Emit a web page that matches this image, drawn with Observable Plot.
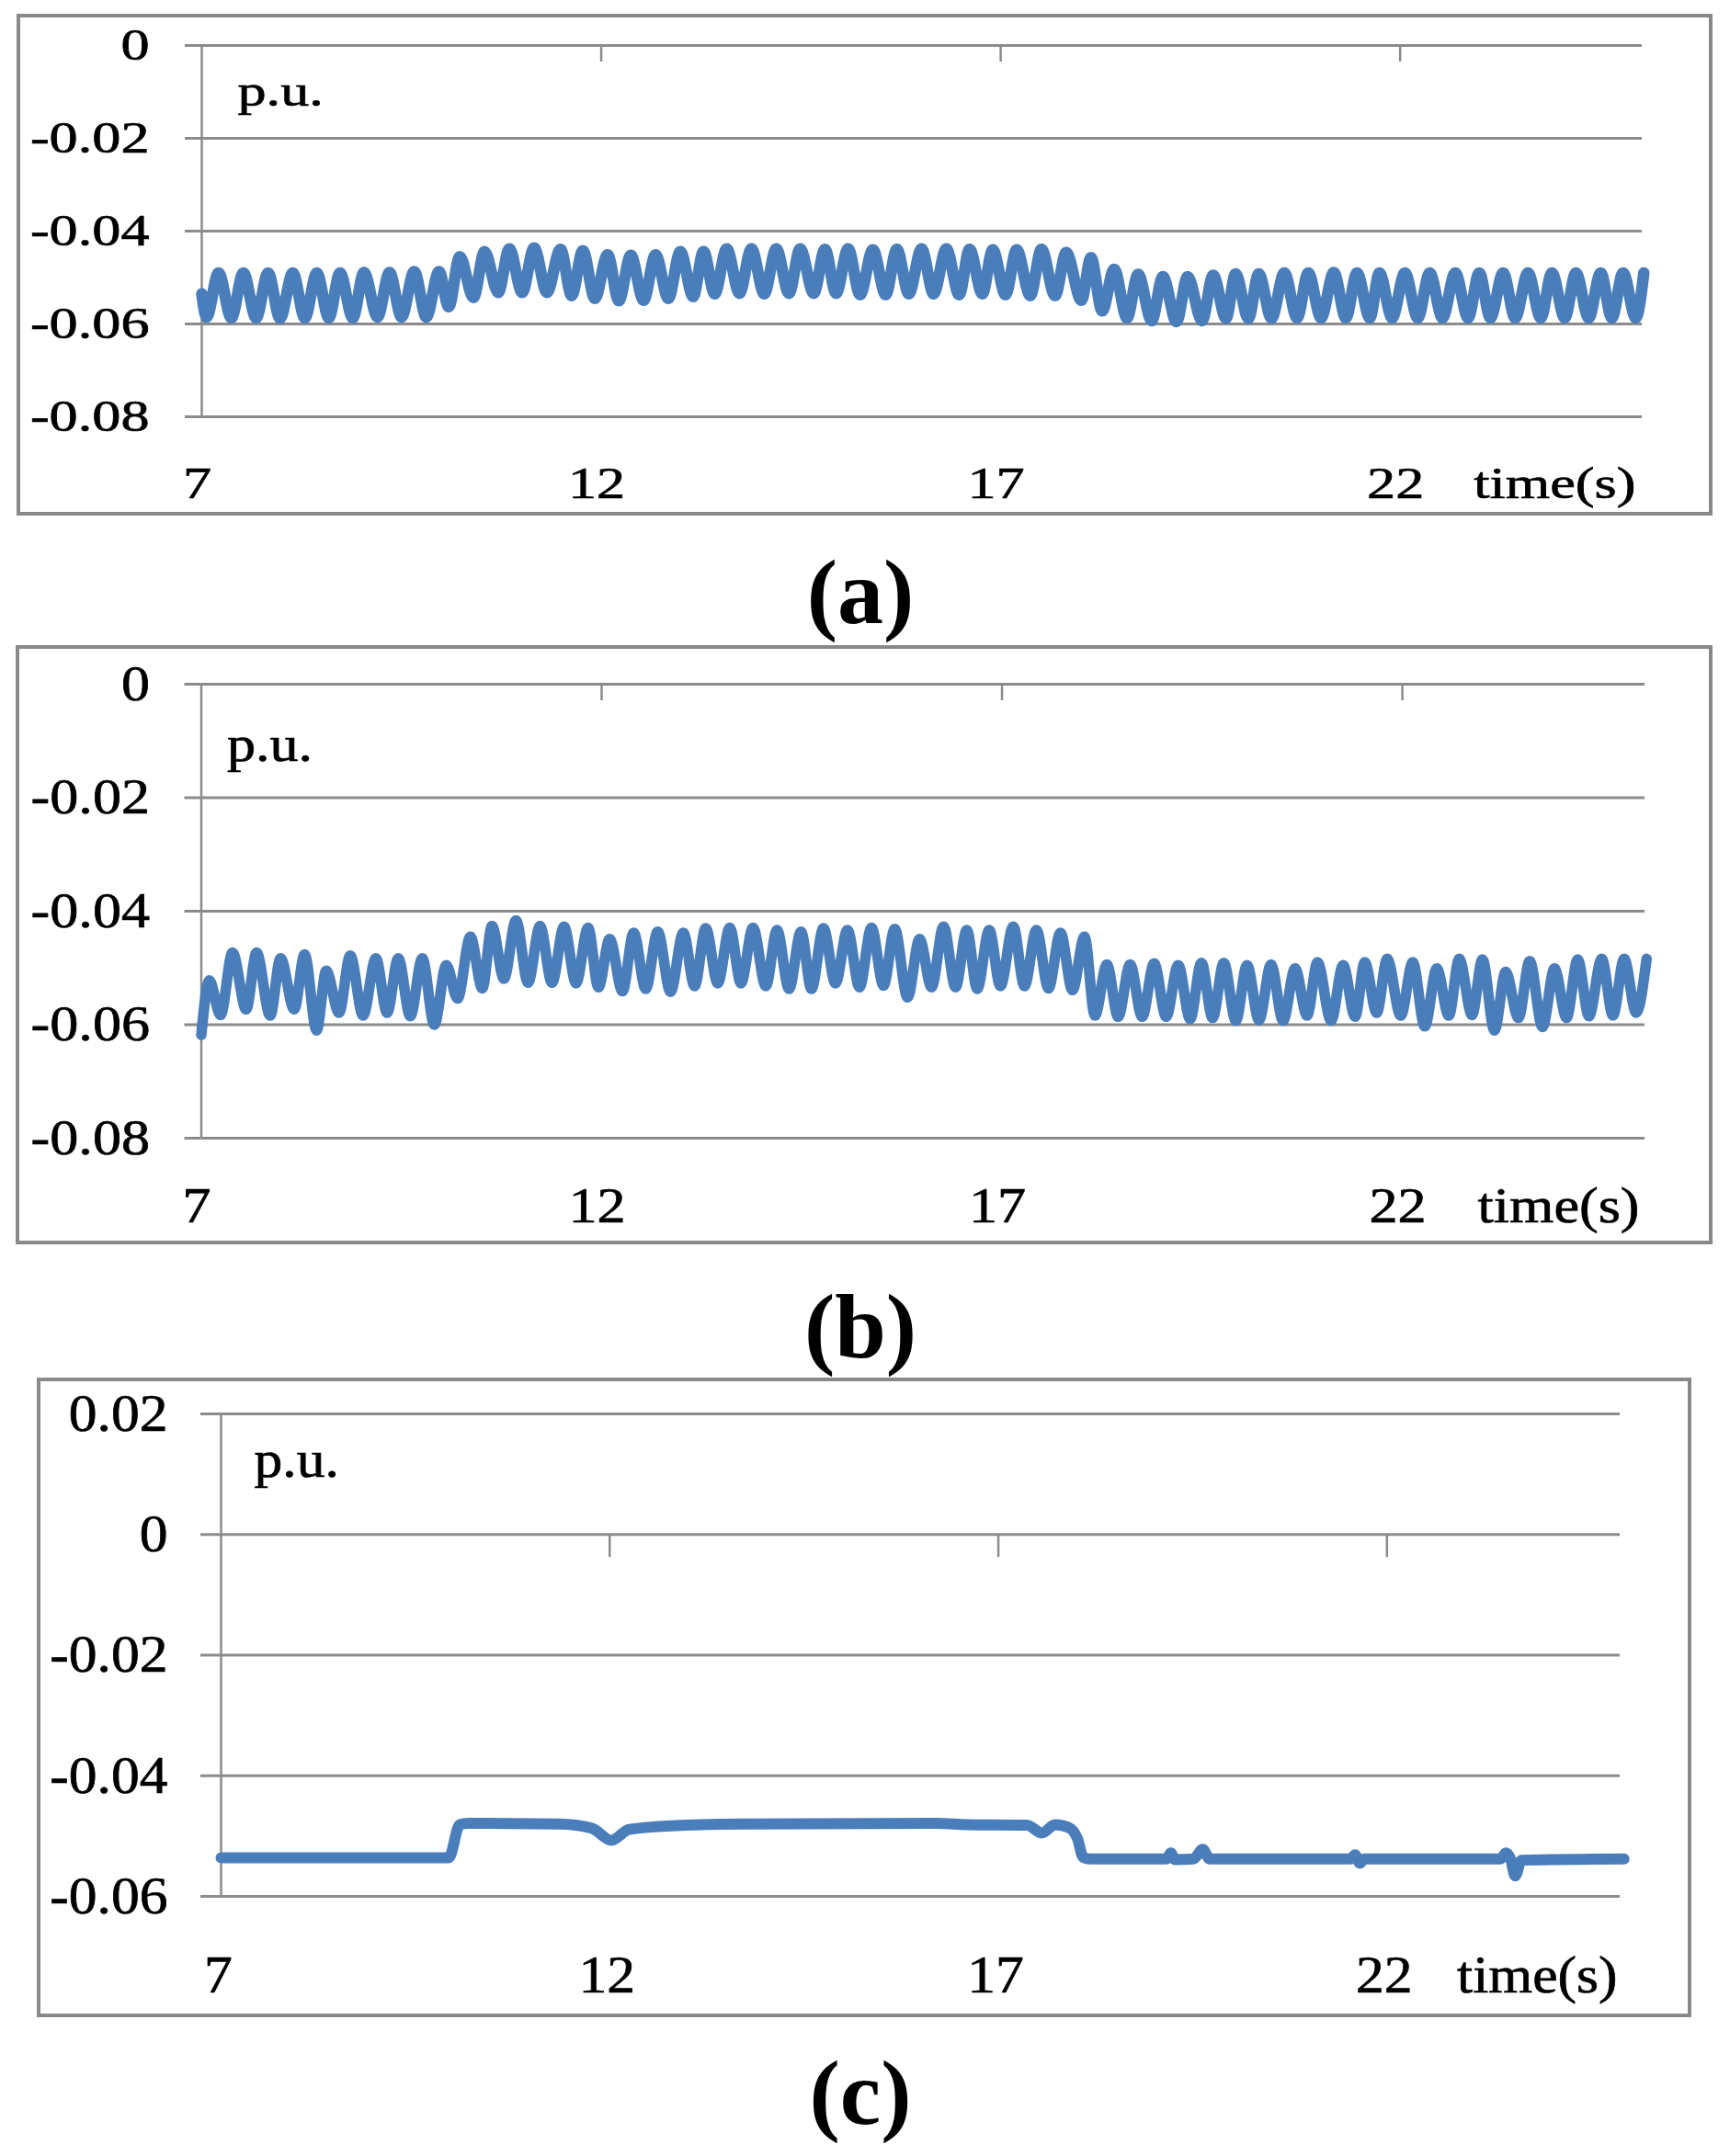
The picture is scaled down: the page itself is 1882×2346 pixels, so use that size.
<!DOCTYPE html>
<html><head><meta charset="utf-8">
<script src="https://cdn.jsdelivr.net/npm/d3@7"></script>
<script src="https://cdn.jsdelivr.net/npm/@observablehq/plot@0.6"></script>
<style>
html,body{margin:0;padding:0;background:#fff}
#page{position:relative;width:1882px;height:2346px;background:#fff;overflow:hidden}
.chart{position:absolute;left:0}
.chart svg text{stroke:#000;stroke-width:0.7px}
.frame{position:absolute;box-sizing:border-box;border:4px solid #898989;pointer-events:none}
.cap{position:absolute;left:0;width:1872px;text-align:center;font-family:"Liberation Serif","Times New Roman",serif;font-weight:bold;font-size:100px;line-height:100px;color:#000}
</style></head><body>
<div id="page">
  <div class="chart" id="ca" style="top:0px"></div>
  <div class="frame" style="left:18px;top:15px;width:1845px;height:546px"></div>
  <div class="cap" style="top:595px">(a)</div>
  <div class="chart" id="cb" style="top:700px"></div>
  <div class="frame" style="left:17px;top:702px;width:1846px;height:652px"></div>
  <div class="cap" style="top:1394px">(b)</div>
  <div class="chart" id="cc" style="top:1500px"></div>
  <div class="frame" style="left:40px;top:1499px;width:1800px;height:696px"></div>
  <div class="cap" style="top:2228px">(c)</div>
</div>
<script>
// ---- tick values and labels ----
const xTicks = [7, 12, 17, 22];
const xTickLabels = ["7", "12", "17", "22"];
const yTicksAB = [0, -0.02, -0.04, -0.06, -0.08];
const yTickLabelsAB = ["0", "-0.02", "-0.04", "-0.06", "-0.08"];
const yTicksC = [0.02, 0, -0.02, -0.04, -0.06];
const yTickLabelsC = ["0.02", "0", "-0.02", "-0.04", "-0.06"];
const unitLabel = "p.u.";
const timeLabel = "time(s)";

// ---- series (a): extrema ----
const tA = [7.00,7.06,7.21,7.37,7.52,7.68,7.83,7.98,8.14,8.29,8.44,8.59,8.73,8.89,9.03,9.20,9.35,9.50,9.66,9.81,9.97,
10.09,10.23,10.40,10.54,10.71,10.85,11.01,11.16,11.32,11.49,11.63,11.77,11.92,12.08,12.22,12.37,12.53,12.68,12.84,12.99,
13.15,13.28,13.42,13.57,13.73,13.88,14.04,14.19,14.35,14.49,14.66,14.80,14.94,15.09,15.24,15.40,15.56,15.70,15.85,16.01,
16.16,16.32,16.48,16.61,16.77,16.90,17.06,17.20,17.37,17.51,17.68,17.82,18.01,18.13,18.27,18.42,18.58,18.72,18.89,19.03,
19.20,19.34,19.52,19.66,19.82,19.94,20.10,20.23,20.39,20.55,20.71,20.85,21.01,21.17,21.32,21.46,21.62,21.74,21.90,22.06,
22.22,22.37,22.53,22.69,22.85,22.99,23.13,23.29,23.44,23.60,23.76,23.90,24.06,24.20,24.36,24.51,24.65,24.79,24.95,25.05];
const vA = [-0.0535,-0.0585,-0.0490,-0.0587,-0.0490,-0.0587,-0.0490,-0.0588,-0.0490,-0.0587,-0.0490,-0.0587,-0.0490,-0.0587,-0.0489,-0.0585,-0.0489,-0.0585,-0.0487,-0.0585,-0.0487,
-0.0563,-0.0455,-0.0543,-0.0444,-0.0532,-0.0438,-0.0532,-0.0436,-0.0532,-0.0439,-0.0539,-0.0442,-0.0545,-0.0451,-0.0550,-0.0452,-0.0549,-0.0451,-0.0545,-0.0444,
-0.0541,-0.0444,-0.0535,-0.0438,-0.0534,-0.0438,-0.0535,-0.0438,-0.0534,-0.0438,-0.0534,-0.0439,-0.0534,-0.0438,-0.0537,-0.0440,-0.0537,-0.0439,-0.0535,-0.0438,
-0.0535,-0.0438,-0.0537,-0.0439,-0.0535,-0.0440,-0.0537,-0.0440,-0.0539,-0.0439,-0.0539,-0.0446,-0.0549,-0.0457,-0.0572,-0.0482,-0.0587,-0.0493,-0.0593,-0.0498,
-0.0595,-0.0498,-0.0593,-0.0495,-0.0588,-0.0492,-0.0588,-0.0492,-0.0588,-0.0490,-0.0587,-0.0490,-0.0587,-0.0489,-0.0587,-0.0490,-0.0587,-0.0490,-0.0587,-0.0490,
-0.0587,-0.0490,-0.0587,-0.0490,-0.0587,-0.0490,-0.0587,-0.0490,-0.0587,-0.0490,-0.0587,-0.0490,-0.0587,-0.0490,-0.0587,-0.0490,-0.0587,-0.0490,-0.0587,-0.0490];

// ---- series (b) ----
const tB = [7.00,7.10,7.24,7.39,7.56,7.69,7.86,7.99,8.16,8.29,8.44,8.56,8.72,8.86,9.02,9.18,9.32,9.46,9.61,9.76,9.91,
10.06,10.20,10.36,10.51,10.63,10.78,10.93,11.08,11.23,11.38,11.53,11.68,11.83,11.96,12.10,12.26,12.40,12.55,12.70,12.86,
13.02,13.16,13.30,13.45,13.60,13.74,13.89,14.05,14.19,14.34,14.49,14.62,14.77,14.92,15.07,15.22,15.37,15.52,15.66,15.82,
15.97,16.12,16.27,16.42,16.56,16.69,16.84,16.98,17.14,17.28,17.43,17.58,17.73,17.88,18.03,18.16,18.31,18.45,18.60,18.75,
18.90,19.05,19.20,19.35,19.49,19.63,19.77,19.92,20.06,20.21,20.36,20.51,20.66,20.81,20.94,21.11,21.26,21.41,21.53,21.68,
21.81,21.98,22.13,22.28,22.43,22.58,22.71,22.87,23.00,23.15,23.29,23.45,23.59,23.75,23.90,24.05,24.19,24.33,24.49,24.63,
24.77,24.92,25.05];
const vB = [-0.0618,-0.0522,-0.0583,-0.0473,-0.0573,-0.0473,-0.0584,-0.0483,-0.0573,-0.0476,-0.0610,-0.0505,-0.0579,-0.0478,-0.0584,-0.0483,-0.0579,-0.0483,-0.0585,-0.0483,-0.0600,
-0.0495,-0.0554,-0.0445,-0.0536,-0.0426,-0.0519,-0.0416,-0.0526,-0.0426,-0.0526,-0.0427,-0.0527,-0.0429,-0.0534,-0.0449,-0.0541,-0.0438,-0.0537,-0.0436,-0.0542,
-0.0438,-0.0532,-0.0430,-0.0527,-0.0429,-0.0527,-0.0429,-0.0532,-0.0433,-0.0537,-0.0436,-0.0537,-0.0430,-0.0527,-0.0433,-0.0534,-0.0429,-0.0531,-0.0431,-0.0552,
-0.0449,-0.0534,-0.0427,-0.0534,-0.0433,-0.0537,-0.0433,-0.0532,-0.0427,-0.0532,-0.0433,-0.0536,-0.0438,-0.0539,-0.0445,-0.0584,-0.0494,-0.0586,-0.0494,-0.0586,
-0.0492,-0.0586,-0.0495,-0.0590,-0.0491,-0.0588,-0.0491,-0.0593,-0.0495,-0.0592,-0.0494,-0.0593,-0.0501,-0.0584,-0.0490,-0.0593,-0.0495,-0.0586,-0.0490,-0.0579,
-0.0484,-0.0584,-0.0490,-0.0603,-0.0501,-0.0584,-0.0484,-0.0583,-0.0485,-0.0610,-0.0507,-0.0588,-0.0488,-0.0604,-0.0501,-0.0588,-0.0485,-0.0585,-0.0484,-0.0584,
-0.0484,-0.0579,-0.0484];

// ---- series (c) ----
const tC = [7.00,9.93,10.07,10.17,11.35,11.77,12.02,12.25,12.79,13.70,16.22,16.59,17.37,17.56,17.73,17.91,18.02,18.09,18.18,
19.16,19.22,19.27,19.51,19.63,19.72,21.53,21.59,21.65,21.71,23.46,23.53,23.59,23.65,23.73,25.05];
const vC = [-0.0536,-0.0536,-0.0481,-0.0479,-0.0480,-0.0487,-0.0507,-0.0489,-0.0483,-0.0480,-0.0479,-0.0481,-0.0482,-0.0495,-0.0481,-0.0486,-0.0505,-0.0535,-0.0538,
-0.0538,-0.0528,-0.0539,-0.0538,-0.0522,-0.0538,-0.0538,-0.0531,-0.0545,-0.0538,-0.0538,-0.0528,-0.0538,-0.0566,-0.0540,-0.0538];

const GRID = "#8b8b8b";
const LINE = "#4a7ebb";

function makeChart(c) {
  const data = c.t.map((t, i) => ({t, v: c.v[i]}));
  const fmtY = d => c.yLabels[c.yTicks.indexOf(d)];
  const fmtX = d => xTickLabels[xTicks.indexOf(d)];
  return Plot.plot({
    width: 1882,
    height: c.height,
    marginTop: c.mt, marginBottom: c.mb, marginLeft: c.ml, marginRight: c.mr,
    x: {domain: c.xDomain},
    y: {domain: c.yDomain},
    style: {fontFamily: '"Liberation Serif", "Times New Roman", serif', fontSize: c.font + "px", background: "transparent", color: "#000", overflow: "visible"},
    marks: [
      Plot.ruleY(c.yTicks, {stroke: GRID, strokeWidth: 3}),
      Plot.ruleX([7], {stroke: GRID, strokeWidth: 2.5}),
      Plot.ruleX(xTicks.slice(1), {x: d => d, y1: () => 0, y2: () => 0, insetBottom: -c.tickLen, stroke: GRID, strokeWidth: 2.5}),
      Plot.axisY({ticks: c.yTicks, tickSize: c.yTickLen, tickPadding: c.yPad, tickFormat: fmtY, label: null, stroke: GRID, strokeWidth: 3, fontSize: c.font}),
      Plot.axisX({anchor: "bottom", ticks: xTicks, tickSize: 0, tickPadding: c.xPad, tickFormat: fmtX, label: null, dx: c.xdx, fontSize: c.font}),
      Plot.text([timeLabel], {frameAnchor: "bottom-right", textAnchor: "end", lineAnchor: "top", dy: c.xPad, dx: c.tdx, fontSize: c.font}),
      Plot.text([unitLabel], {frameAnchor: "top-left", textAnchor: "start", lineAnchor: "top", dx: c.pdx, dy: c.pdy, fontSize: c.font}),
      Plot.line(data, {x: "t", y: "v", stroke: LINE, strokeWidth: c.sw, curve: "monotone-x"})
    ]
  });
}

function stretch(svg, r) {
  svg.querySelectorAll("text").forEach(t => {
    const w = t.getComputedTextLength();
    if (w > 0) {
      t.setAttribute("textLength", (w * r).toFixed(1));
      t.setAttribute("lengthAdjust", "spacingAndGlyphs");
    }
  });
}

const configs = [
  {id: "ca", t: tA, v: vA, height: 560, mt: 49, mb: 107, ml: 219, mr: 96, xDomain: [7, 25.03], yDomain: [-0.08, 0],
   yTicks: yTicksAB, yLabels: yTickLabelsAB, font: 49, ratio: 1.27, xPad: 54, xdx: -5, tdx: -7, pdx: 39, pdy: 31,
   yTickLen: 18, yPad: 39, tickLen: 18, sw: 12.5},
  {id: "cb", t: tB, v: vB, height: 656, mt: 44, mb: 118, ml: 218.5, mr: 93, xDomain: [7, 25.03], yDomain: [-0.08, 0],
   yTicks: yTicksAB, yLabels: yTickLabelsAB, font: 54, ratio: 1.15, xPad: 53, xdx: -5, tdx: -6, pdx: 28, pdy: 45,
   yTickLen: 18, yPad: 38, tickLen: 18, sw: 11.5},
  {id: "cc", t: tC, v: vC, height: 700, mt: 38, mb: 137, ml: 240, mr: 120, xDomain: [7, 25], yDomain: [-0.06, 0.02],
   yTicks: yTicksC, yLabels: yTickLabelsC, font: 57, ratio: 1.08, xPad: 64, xdx: -3, tdx: -3, pdx: 36, pdy: 28,
   yTickLen: 22, yPad: 36, tickLen: 25, sw: 12}
];

for (const c of configs) {
  const svg = makeChart(c);
  document.getElementById(c.id).appendChild(svg);
  stretch(svg, c.ratio);
}
</script>
</body></html>
